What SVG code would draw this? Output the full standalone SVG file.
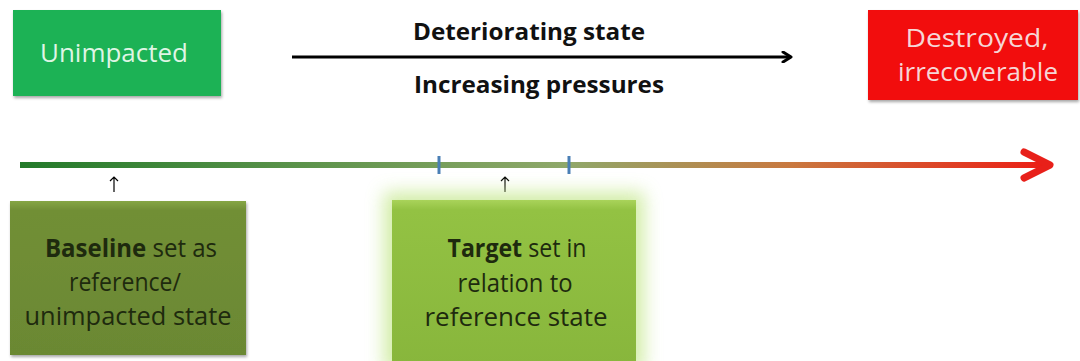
<svg xmlns="http://www.w3.org/2000/svg" width="1080" height="361" viewBox="0 0 1080 361">
<style>
text{font-family:"Open Sans",Lato,"Liberation Sans",sans-serif;}
.lbl{font-size:26px;text-anchor:middle;}
.box{font-size:25px;text-anchor:middle;fill:#1e2a0e;}
.hdr{font-size:24px;font-weight:bold;text-anchor:middle;fill:#111;}
</style>
<defs>
<linearGradient id="scale" x1="20" y1="0" x2="1050" y2="0" gradientUnits="userSpaceOnUse">
<stop offset="0" stop-color="#237a2a"/>
<stop offset="0.4" stop-color="#769e5a"/>
<stop offset="0.53" stop-color="#8fa86a"/>
<stop offset="0.75" stop-color="#c9783f"/>
<stop offset="1" stop-color="#ec1c14"/>
</linearGradient>
<linearGradient id="baseFill" x1="0" y1="0" x2="0" y2="1">
<stop offset="0" stop-color="#85a644"/>
<stop offset="0.06" stop-color="#718f36"/>
<stop offset="1" stop-color="#6b8833"/>
</linearGradient>
<linearGradient id="targFill" x1="0" y1="0" x2="0" y2="1">
<stop offset="0" stop-color="#a9d35a"/>
<stop offset="0.06" stop-color="#93c243"/>
<stop offset="1" stop-color="#88b63c"/>
</linearGradient>
<filter id="glow" x="-20%" y="-20%" width="140%" height="140%">
<feGaussianBlur stdDeviation="9"/>
</filter>
<filter id="shadow" x="-10%" y="-10%" width="120%" height="125%">
<feDropShadow dx="1" dy="2" stdDeviation="1.5" flood-color="#000" flood-opacity="0.35"/>
</filter>
<marker id="blk" viewBox="0 0 12 12" refX="10" refY="6" markerWidth="12" markerHeight="12" markerUnits="userSpaceOnUse" orient="auto">
<path d="M2,1 L10,6 L2,11" fill="none" stroke="#000" stroke-width="3" stroke-linecap="round" stroke-linejoin="round"/>
</marker>
</defs>

<g id="unimpacted">
<rect x="13" y="10" width="208" height="86" fill="#1db254" filter="url(#shadow)"/>
<text class="lbl" x="114" y="62" fill="#dff5e4" textLength="148" lengthAdjust="spacingAndGlyphs">Unimpacted</text>
</g>

<g id="destroyed">
<rect x="868" y="10" width="210" height="90" fill="#f20a0a" filter="url(#shadow)"/>
<text class="lbl" x="977" y="47" fill="#f6d6d6" textLength="143" lengthAdjust="spacingAndGlyphs">Destroyed,</text>
<text class="lbl" x="978" y="81" fill="#f6d6d6" textLength="160" lengthAdjust="spacingAndGlyphs">irrecoverable</text>
</g>

<g id="header">
<text class="hdr" x="529" y="40" textLength="232" lengthAdjust="spacingAndGlyphs">Deteriorating state</text>
<text class="hdr" x="539" y="93" textLength="250" lengthAdjust="spacingAndGlyphs">Increasing pressures</text>
</g>

<g id="connectors">
<line x1="292" y1="57" x2="791" y2="57" stroke="#000" stroke-width="3" marker-end="url(#blk)"/>
<line x1="20" y1="165" x2="1045" y2="165" stroke="url(#scale)" stroke-width="6"/>
<path d="M1024,152 L1050,165 L1024,178" fill="none" stroke="#e8201a" stroke-width="7" stroke-linecap="round" stroke-linejoin="round"/>
<line x1="439" y1="156" x2="439" y2="174" stroke="#4a7fb5" stroke-width="3"/>
<line x1="569" y1="156" x2="569" y2="174" stroke="#4a7fb5" stroke-width="3"/>
<path d="M114,192 V177 M110,181 L114,177 L118,181" fill="none" stroke="#000" stroke-width="1.2"/>
<path d="M505,192 V177 M501,181 L505,177 L509,181" fill="none" stroke="#000" stroke-width="1.2"/>
</g>

<g id="baseline">
<rect x="10" y="201" width="236" height="154" fill="url(#baseFill)" filter="url(#shadow)"/>
<text class="box" x="131" y="257" textLength="172" lengthAdjust="spacingAndGlyphs"><tspan font-weight="bold">Baseline</tspan> set as</text>
<text class="box" x="125" y="291" textLength="112" lengthAdjust="spacingAndGlyphs">reference/</text>
<text class="box" x="128" y="325" textLength="207" lengthAdjust="spacingAndGlyphs">unimpacted state</text>
</g>

<g id="target">
<rect x="384" y="192" width="260" height="180" fill="#c6e890" opacity="0.8" filter="url(#glow)"/>
<rect x="392" y="200" width="244" height="165" fill="url(#targFill)"/>
<text class="box" x="517" y="257" textLength="139" lengthAdjust="spacingAndGlyphs"><tspan font-weight="bold">Target</tspan> set in</text>
<text class="box" x="515" y="292" textLength="115" lengthAdjust="spacingAndGlyphs">relation to</text>
<text class="box" x="516" y="326" textLength="183" lengthAdjust="spacingAndGlyphs">reference state</text>
</g>
</svg>
